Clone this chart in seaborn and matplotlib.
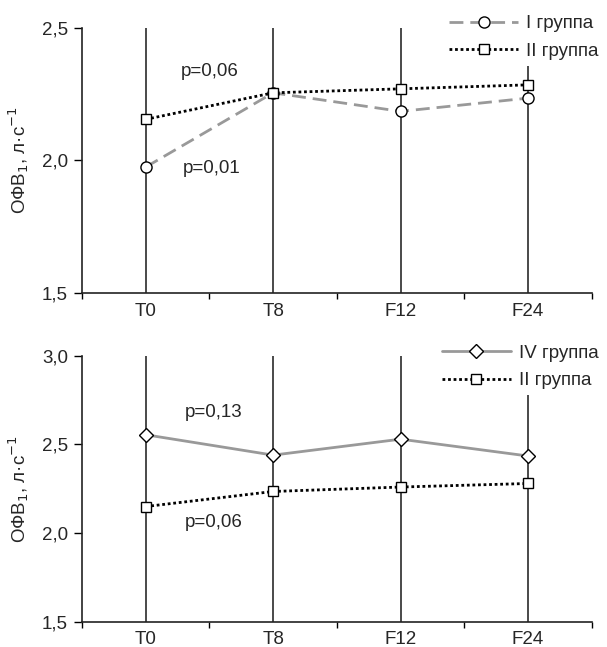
import numpy as np
import pandas as pd
import matplotlib
matplotlib.use('Agg')
import matplotlib.pyplot as plt
import seaborn as sns

# DATA
categories = ['T0', 'T8', 'F12', 'F24']

group1_top = [1.975, 2.255, 2.185, 2.235]    # I группа
group2_top = [2.155, 2.255, 2.27, 2.285]     # II группа
group4_bot = [2.555, 2.44, 2.53, 2.435]      # IV группа
group2_bot = [2.15, 2.235, 2.26, 2.28]       # II группа

# error bars are wider than the visible range (clipped in the original)
sd_top = [1.2, 1.2, 1.2, 1.2]
sd_bot = [1.6, 1.6, 1.6, 1.6]

top_ylim = (1.5, 2.5)
bot_ylim = (1.5, 3.0)
top_yticks = [1.5, 2.0, 2.5]
bot_yticks = [1.5, 2.0, 2.5, 3.0]

FS = 13.5

sns.set_style('white')
plt.rcParams['font.family'] = ['Liberation Sans', 'DejaVu Sans']
plt.rcParams['font.size'] = FS

fig = plt.figure(figsize=(6.07, 6.47), dpi=100)
ax1 = fig.add_axes([0.135, 0.547, 0.84, 0.410])
ax2 = fig.add_axes([0.135, 0.039, 0.84, 0.411])

x = np.arange(len(categories))


def draw_series(ax, vals, sd, color, ls, marker, ms, label, lw=2.0, z=3):
    df = pd.DataFrame({'x': x, 'y': vals})
    ax.errorbar(df['x'], df['y'], yerr=sd, fmt='none', ecolor='#444444',
                elinewidth=1.1, capsize=0, zorder=1)
    sns.lineplot(data=df, x='x', y='y', ax=ax, color=color, linestyle=ls,
                 linewidth=lw, marker=marker, markersize=ms,
                 markerfacecolor='white', markeredgecolor='black',
                 markeredgewidth=1.0, label=label, zorder=z)


def style_axis(ax, ylim, yticks):
    ax.set_xlim(-0.5, len(categories) - 0.5)
    ax.set_ylim(*ylim)
    ax.set_yticks(yticks)
    ax.set_yticklabels([f'{t:.1f}'.replace('.', ',') for t in yticks], fontsize=FS)
    ax.set_xticks(x)
    ax.set_xticklabels(categories, fontsize=FS)
    ax.set_xticks(np.arange(-0.5, len(categories)), minor=True)
    ax.tick_params(axis='x', which='major', length=0, pad=7, bottom=True)
    ax.tick_params(axis='x', which='minor', length=4, width=1, direction='out',
                   color='black', bottom=True)
    ax.tick_params(axis='y', length=6, width=1, direction='out', color='black', left=True, pad=4)
    for s in ['top', 'right']:
        ax.spines[s].set_visible(False)
    for s in ['left', 'bottom']:
        ax.spines[s].set_color('#222222')
        ax.spines[s].set_linewidth(1.2)
    ax.set_xlabel('')
    ax.set_ylabel('ОФВ$_1$, л·с$^{-1}$', fontsize=FS, labelpad=8)


# top panel
draw_series(ax1, group1_top, sd_top, '#999999', (0, (5, 2.5)), 'o', 8, 'I группа')
draw_series(ax1, group2_top, sd_top, 'black', (0, (1, 1)), 's', 7, 'II группа', z=4)
style_axis(ax1, top_ylim, top_yticks)
ax1.text(0.5, 2.335, 'p=0,06', ha='center', va='center', fontsize=FS)
ax1.text(0.52, 1.97, 'p=0,01', ha='center', va='center', fontsize=FS)

# bottom panel
draw_series(ax2, group4_bot, sd_bot, '#999999', '-', 'D', 7.5, 'IV группа')
draw_series(ax2, group2_bot, sd_bot, 'black', (0, (1, 1)), 's', 7, 'II группа', z=4)
style_axis(ax2, bot_ylim, bot_yticks)
ax2.text(0.53, 2.68, 'p=0,13', ha='center', va='center', fontsize=FS)
ax2.text(0.53, 2.06, 'p=0,06', ha='center', va='center', fontsize=FS)

for ax, ytop in [(ax1, 0.985), (ax2, 0.476)]:
    leg = ax.legend(loc='upper right', bbox_to_anchor=(0.995, ytop),
                    bbox_transform=fig.transFigure, frameon=True,
                    handlelength=3.7, handletextpad=0.4, labelspacing=0.55,
                    borderpad=0.3, borderaxespad=0, fontsize=FS)
    leg.get_frame().set_facecolor('white')
    leg.get_frame().set_edgecolor('none')
    leg.get_frame().set_alpha(1)
    leg.set_zorder(10)

fig.savefig('out.png', dpi=100)
